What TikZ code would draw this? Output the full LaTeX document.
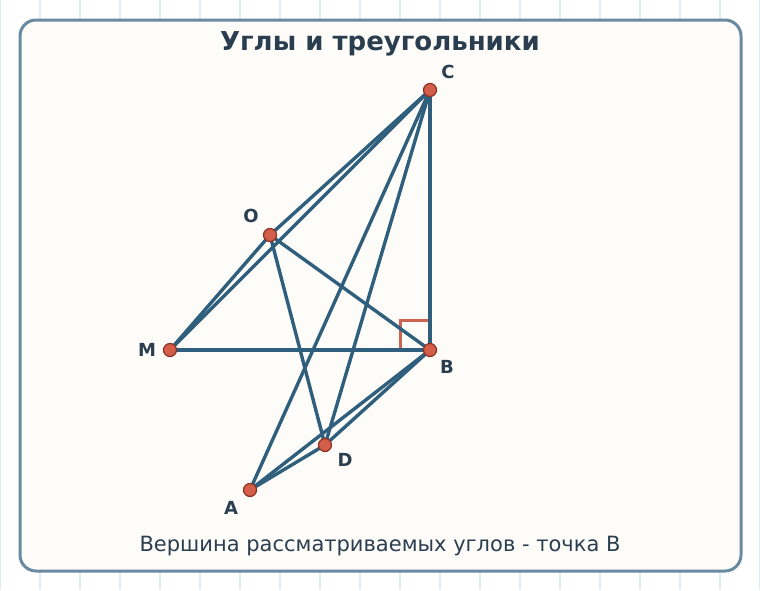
\documentclass[tikz,border=0pt]{standalone}
\usepackage{fontspec}
\setmainfont{DejaVu Sans}
\definecolor{segcol}{HTML}{2F5F7C}
\definecolor{dotfill}{HTML}{D35E4A}
\definecolor{dotdraw}{HTML}{8E2F22}
\definecolor{angcol}{HTML}{CC6452}
\definecolor{txtcol}{HTML}{2B3E50}
\definecolor{panelcol}{HTML}{6A8AA2}
\definecolor{panelfill}{HTML}{FDFCF8}
\definecolor{gridcol}{HTML}{E1EBF2}

\begin{document}
\begin{tikzpicture}[x=1pt,y=-1pt]
\tikzstyle{seg}=[draw=segcol, line width=3.4pt, line cap=round]
\tikzstyle{dot}=[circle, fill=dotfill, draw=dotdraw, line width=1.2pt, inner sep=0pt, minimum size=13pt]
\tikzstyle{lbl}=[text=txtcol, font=\bfseries\fontsize{18}{21}\selectfont, inner sep=0pt]
\tikzstyle{rightang}=[draw=angcol, line width=3pt]
    \useasboundingbox (0,0) rectangle (760,590);
    \fill[white] (0,0) rectangle (760,590);
    \draw[gridcol, line width=1.2pt] (0,0) grid[step={(40,40)}] (760,590);
    \draw[panelcol, fill=panelfill, line width=3pt, rounded corners=16pt] (20,20) rectangle (741,571);
    \node[text=txtcol, font=\bfseries\fontsize{26}{30}\selectfont] (title) at (380,44) {Углы и треугольники};
    \node[text=txtcol, font=\fontsize{21}{24}\selectfont] (caption) at (380,546) {Вершина рассматриваемых углов - точка B};
    % points
    \coordinate (C) at (430,90);
    \coordinate (O) at (270,235);
    \coordinate (M) at (170,350);
    \coordinate (B) at (430,350);
    \coordinate (D) at (325,445);
    \coordinate (A) at (250,490);
    % right angle at B
    \draw[rightang] ([shift={(-30,0)}]B) -- ([shift={(-30,-30)}]B) -- ([shift={(0,-30)}]B);
    % segments
    \draw[seg] (C) -- (O);
    \draw[seg] (C) -- (M);
    \draw[seg] (O) -- (M);
    \draw[seg] (C) -- (B);
    \draw[seg] (M) -- (B);
    \draw[seg] (O) -- (B);
    \draw[seg] (O) -- (D);
    \draw[seg] (C) -- (D);
    \draw[seg] (C) -- (A);
    \draw[seg] (A) -- (D);
    \draw[seg] (A) -- (B);
    \draw[seg] (D) -- (B);
    % dots and labels
    \foreach \p in {C,O,M,B,D,A}
        \node[dot] (d\p) at (\p) {};
    \node[lbl] (lC) at (448,72) {C};
    \node[lbl] (lO) at (251,216) {O};
    \node[lbl] (lM) at (147,350) {M};
    \node[lbl] (lB) at (447,367) {B};
    \node[lbl] (lD) at (345,460) {D};
    \node[lbl] (lA) at (231,508) {A};
\end{tikzpicture}
\end{document}
